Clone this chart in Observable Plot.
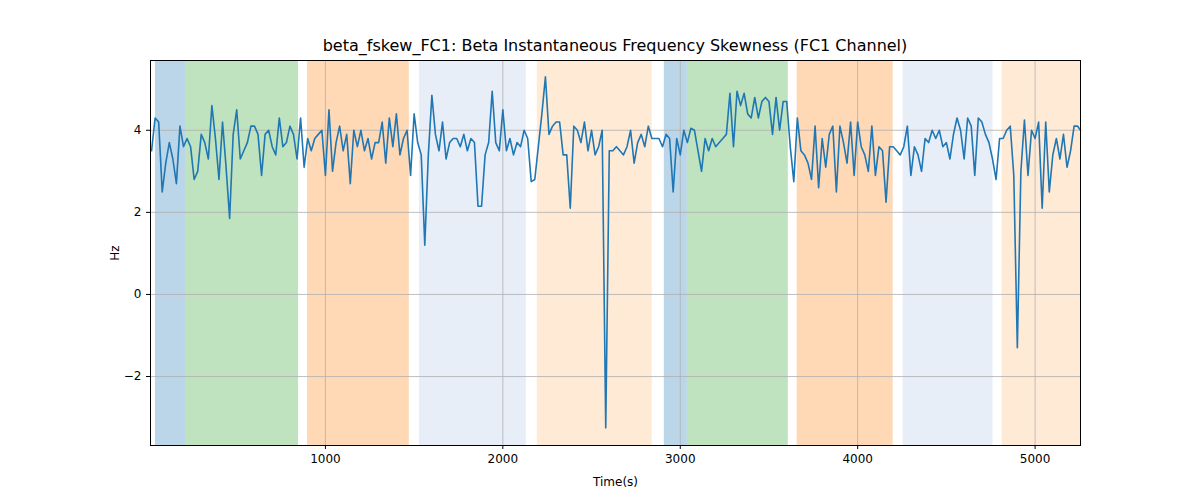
<!DOCTYPE html>
<html><head><meta charset="utf-8">
<script src="https://cdn.jsdelivr.net/npm/d3@7"></script>
<script src="https://cdn.jsdelivr.net/npm/@observablehq/plot@0.6"></script>
<style>body{margin:0;background:#fff;font-family:"DejaVu Sans",sans-serif}
#t{position:absolute;left:150px;width:930px;top:36px;text-align:center;font-size:16px}
#c{position:absolute;left:0;top:30px}</style></head>
<body><div id="t">beta_fskew_FC1: Beta Instantaneous Frequency Skewness (FC1 Channel)</div><div id="c"></div>
<script>
const t0 = 20, dt = 20;
const values = [
3.5,4.3,4.2,2.5,3.2,3.7,3.3,2.7,4.1,3.6,
3.8,3.6,2.8,3.0,3.9,3.7,3.3,4.6,3.8,2.8,
4.2,3.1,1.85,3.9,4.5,3.3,3.5,3.7,4.1,4.1,
3.9,2.9,3.9,4.0,3.6,3.4,4.3,3.6,3.7,4.1,
3.9,3.3,4.3,3.1,3.8,3.5,3.8,3.9,4.0,2.9,
4.5,3.0,3.7,4.1,3.5,3.9,2.7,4.0,3.6,4.0,
3.5,3.8,3.3,3.7,3.7,4.2,3.2,4.3,3.6,4.4,
3.4,3.8,4.0,2.9,4.4,3.7,3.4,1.2,3.4,4.85,
3.9,3.5,4.2,3.3,3.7,3.8,3.8,3.6,3.9,3.5,
3.8,3.7,2.15,2.15,3.4,3.7,4.95,3.7,3.5,4.5,
3.5,3.8,3.4,3.7,3.6,4.0,3.8,2.75,2.8,3.6,
4.4,5.3,3.9,4.1,4.2,4.2,3.4,3.4,2.1,4.1,
4.0,3.7,4.2,3.5,4.0,3.4,3.6,4.0,-3.25,3.5,
3.5,3.6,3.5,3.4,3.6,4.0,3.2,3.7,3.9,3.6,
4.1,3.8,3.8,3.8,3.6,3.9,3.8,2.5,3.8,3.4,
4.0,3.7,4.05,4.0,3.5,3.0,3.8,3.5,3.8,3.6,
3.7,3.8,3.9,4.9,3.6,4.95,4.6,4.9,4.4,4.3,
4.8,4.3,4.7,4.8,4.7,3.9,4.8,4.0,4.7,4.7,
3.6,2.75,4.3,3.5,3.4,3.2,2.8,4.1,2.6,3.8,
3.1,3.9,4.1,2.5,4.1,3.7,3.2,4.2,2.9,4.2,
3.6,3.4,3.0,4.1,2.9,3.6,3.5,2.25,3.6,3.6,
3.5,3.4,3.6,4.1,2.9,3.6,3.4,3.0,3.8,3.7,
4.0,3.8,4.0,3.6,3.7,3.3,3.9,4.3,4.0,3.3,
4.3,4.1,2.9,4.3,4.2,3.9,3.7,3.3,2.8,3.8,
3.8,4.0,4.1,2.9,-1.3,3.0,4.25,2.9,4.0,3.8,
4.2,2.1,4.2,2.5,3.4,3.8,3.3,3.9,3.1,3.5,
4.1,4.1,4.0];
const data = values.map((v,i)=>({t: Math.min(t0+dt*i, 5256), v}));
const spanStart = [42,211,899,1530,2194,2910,3040,3659,4256,4814];
const spanEnd   = [211,848,1473,2132,2842,3040,3609,4200,4763,5256];
const spanColor = ["#1f77b4","#2ca02c","#ff7f0e","#aec7e8","#ffbb78","#1f77b4","#2ca02c","#ff7f0e","#aec7e8","#ffbb78"];
const spans = spanStart.map((s,i)=>({s, e: spanEnd[i], c: spanColor[i]}));
const xTicks = [1000,2000,3000,4000,5000];
const yTicks = [-2,0,2,4];
const chart = Plot.plot({
  width: 1200, height: 470,
  marginLeft: 150, marginRight: 120, marginTop: 30, marginBottom: 55,
  style: {fontFamily: "DejaVu Sans", fontSize: "12px", color: "#000"},
  x: {domain: [14, 5256], ticks: xTicks, tickFormat: d=>String(d), label: "Time(s)", labelArrow: "none", labelAnchor: "center", labelOffset: 40, tickSize: 4},
  y: {domain: [-3.68, 5.7], ticks: yTicks, tickFormat: d=>String(d).replace("-","−"), label: "Hz", labelArrow: "none", labelAnchor: "center", labelOffset: 40, tickSize: 4},
  marks: [
    Plot.rectX(spans, {x1: "s", x2: "e", y1: -3.68, y2: 5.7, fill: "c", fillOpacity: 0.3}),
    Plot.gridX(xTicks, {stroke: "#b0b0b0", strokeOpacity: 1, strokeWidth: 0.8}),
    Plot.gridY(yTicks, {stroke: "#b0b0b0", strokeOpacity: 1, strokeWidth: 0.8}),
    Plot.line(data, {x: "t", y: "v", stroke: "#1f77b4", strokeWidth: 1.6}),
    Plot.frame({stroke: "#000"})
  ]
});
document.getElementById("c").append(chart);
</script></body></html>
